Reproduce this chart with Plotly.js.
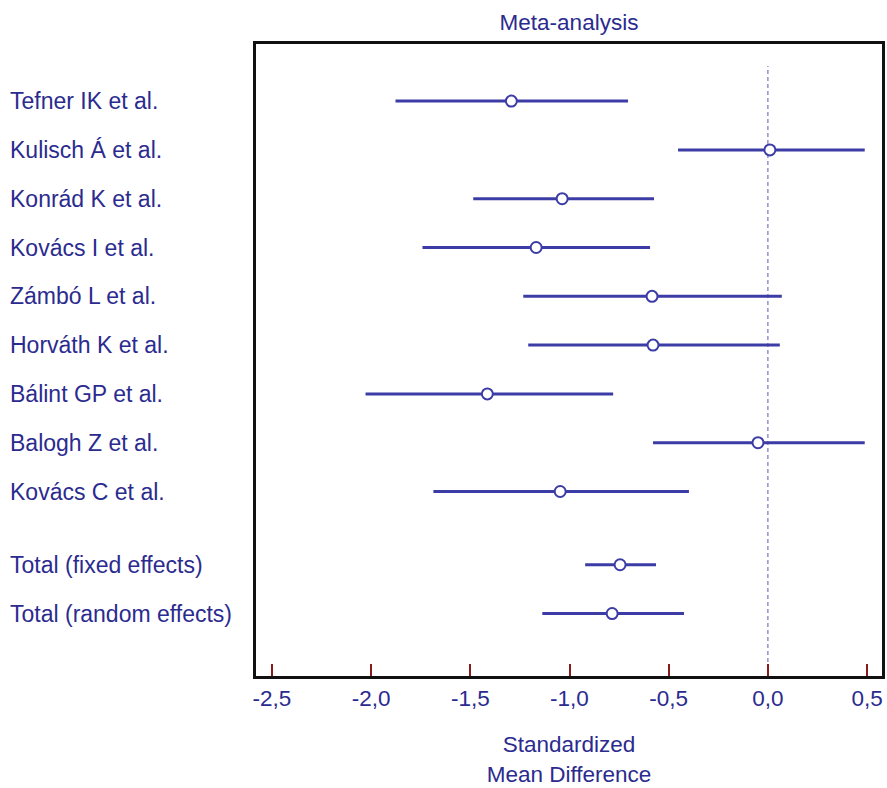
<!DOCTYPE html>
<html>
<head>
<meta charset="utf-8">
<script src="https://cdn.plot.ly/plotly-3.0.1.min.js"></script>
<style>html,body{margin:0;padding:0;background:#fff;}#chart{width:887px;height:788px;}</style>
</head>
<body>
<div id="chart"></div>
<script>
// Data
const studies = ["Tefner IK et al.", "Kulisch Á et al.", "Konrád K et al.", "Kovács I et al.", "Zámbó L et al.", "Horváth K et al.", "Bálint GP et al.", "Balogh Z et al.", "Kovács C et al.", "Total (fixed effects)", "Total (random effects)"];
const rowPos = [0, 1, 2, 3, 4, 5, 6, 7, 8, 9.5, 10.5];
const smd   = [-1.293, 0.010, -1.037, -1.168, -0.584, -0.579, -1.414, -0.050, -1.047, -0.745, -0.785];
const ciLow = [-1.877, -0.453, -1.485, -1.741, -1.233, -1.208, -2.028, -0.579, -1.686, -0.921, -1.137];
const ciHigh= [-0.705, 0.488, -0.574, -0.594, 0.070, 0.060, -0.780, 0.488, -0.398, -0.564, -0.423];
const xTickVals = [-2.5, -2.0, -1.5, -1.0, -0.5, 0.0, 0.5];
const xTickText = ["-2,5", "-2,0", "-1,5", "-1,0", "-0,5", "0,0", "0,5"];

const navy = "#2b2b8f";
const lineCol = "#3c3ca6";
const fontFam = "'Liberation Sans Narrow', 'Liberation Sans', Arial, sans-serif";

const trace = {
  type: "scatter",
  mode: "markers",
  x: smd,
  y: rowPos,
  marker: {symbol: "circle", size: 11, color: "#ffffff", line: {color: lineCol, width: 2}},
  error_x: {
    type: "data",
    symmetric: false,
    array: smd.map((v, i) => ciHigh[i] - v),
    arrayminus: smd.map((v, i) => v - ciLow[i]),
    color: lineCol,
    thickness: 3,
    width: 0
  },
  hoverinfo: "skip",
  showlegend: false
};

const annotations = studies.map((s, i) => ({
  xref: "paper", yref: "y",
  x: (8 - 256) / 626, y: rowPos[i],
  xanchor: "left", yanchor: "middle",
  text: s, showarrow: false,
  font: {family: fontFam, size: 23, color: navy}
}));

const layout = {
  width: 887, height: 788,
  margin: {l: 256, r: 5, t: 44, b: 112},
  paper_bgcolor: "#ffffff",
  plot_bgcolor: "#ffffff",
  font: {family: fontFam, color: navy},
  title: {text: "Meta-analysis", x: 0.5 * (256 + 882) / 887, xanchor: "center", y: 1 - 22 / 788, yanchor: "middle",
          font: {family: fontFam, size: 22.5, color: navy}},
  xaxis: {
    range: [-2.58, 0.575],
    tickvals: xTickVals, ticktext: xTickText,
    ticks: "inside", ticklen: 12, tickwidth: 2, tickcolor: "#8b1a1a",
    showgrid: false, zeroline: false,
    showline: true, mirror: true, linecolor: "#111111", linewidth: 3,
    tickfont: {family: fontFam, size: 22.5, color: navy},
    title: {text: "Standardized<br>Mean Difference", font: {family: fontFam, size: 22.5, color: navy}, standoff: 27}
  },
  yaxis: {
    range: [11.78, -1.17],
    showticklabels: false, ticks: "",
    showgrid: false, zeroline: false,
    showline: true, mirror: true, linecolor: "#111111", linewidth: 3
  },
  shapes: [{
    type: "line", xref: "x", yref: "paper",
    x0: 0, x1: 0, y0: 0, y1: (676 - 66) / 632,
    line: {color: "#5a5ab8", width: 1, dash: "4px,3px"},
    layer: "below"
  }],
  annotations: annotations
};

Plotly.newPlot("chart", [trace], layout, {displayModeBar: false, staticPlot: true});
</script>
</body>
</html>
